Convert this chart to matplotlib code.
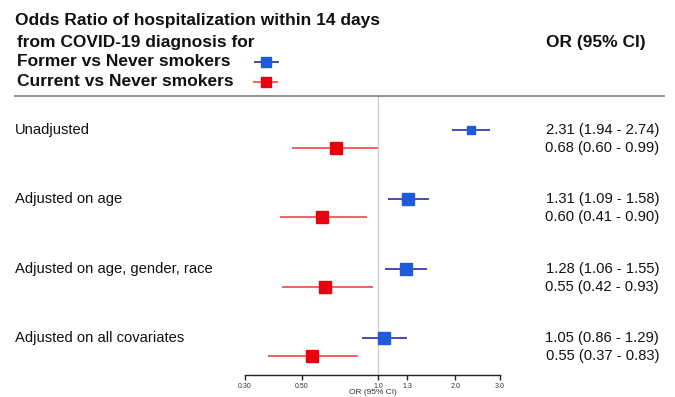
import matplotlib
matplotlib.use("Agg")
import matplotlib.pyplot as plt
from matplotlib.lines import Line2D
from matplotlib.transforms import blended_transform_factory

plt.rcParams['font.family'] = ['Liberation Sans', 'DejaVu Sans']

# ---- data ----
models = ["Unadjusted", "Adjusted on age", "Adjusted on age, gender, race",
          "Adjusted on all covariates"]
former_or = [2.31, 1.31, 1.28, 1.05]
former_lo = [1.94, 1.09, 1.06, 0.86]
former_hi = [2.74, 1.58, 1.55, 1.29]
current_or = [0.68, 0.60, 0.62, 0.55]
current_lo = [0.46, 0.41, 0.42, 0.37]
current_hi = [1.00, 0.90, 0.95, 0.83]
former_txt = ["2.31 (1.94 - 2.74)", "1.31 (1.09 - 1.58)", "1.28 (1.06 - 1.55)", "1.05 (0.86 - 1.29)"]
current_txt = ["0.68 (0.60 - 0.99)", "0.60 (0.41 - 0.90)", "0.55 (0.42 - 0.93)", "0.55 (0.37 - 0.83)"]
xticks = [0.30, 0.50, 1.0, 1.3, 2.0, 3.0]
xtick_labels = ["0.30", "0.50", "1.0", "1.3", "2.0", "3.0"]
title_lines = ["Odds Ratio of hospitalization within 14 days",
               "from COVID-19 diagnosis for"]
legend_labels = ["Former vs Never smokers", "Current vs Never smokers"]

# ---- styles ----
W, H = 675, 397
blue_box = '#1f5bd8'
blue_line = '#4b4bb0'
red_box = '#e8000f'
red_line = '#f06262'
former_ms = [5.8, 8.6, 8.6, 9.2]
current_ms = [8.6, 8.6, 8.6, 9.2]
offset = 0.252
bold_fs = 12.5
reg_fs = 10.6

fig = plt.figure(figsize=(W / 100, H / 100), dpi=100)
ax_left, ax_right = 245 / W, 500 / W
ax_bot, ax_top = (H - 374.5) / H, (H - 96) / H
ax = fig.add_axes([ax_left, ax_bot, ax_right - ax_left, ax_top - ax_bot])
ax.set_xscale('log')
ax.set_xlim(0.3, 3.0)
ax.set_ylim(3.518, -0.489)

for i in range(len(models)):
    ax.plot([former_lo[i], former_hi[i]], [i, i], color=blue_line, lw=1.4, solid_capstyle='butt', zorder=3)
    ax.plot([former_or[i]], [i], marker='s', ms=former_ms[i], color=blue_box, mec=blue_box, zorder=4)
    yc = i + offset
    ax.plot([current_lo[i], current_hi[i]], [yc, yc], color=red_line, lw=1.4, solid_capstyle='butt', zorder=3)
    ax.plot([current_or[i]], [yc], marker='s', ms=current_ms[i], color=red_box, mec=red_box, zorder=4)

ax.axvline(1.0, color='#cfcfcf', lw=1.0, zorder=1)

for s in ['top', 'right', 'left']:
    ax.spines[s].set_visible(False)
ax.spines['bottom'].set_linewidth(1.0)
ax.spines['bottom'].set_color('#222222')
ax.set_yticks([])
ax.set_xticks(xticks)
ax.set_xticklabels(xtick_labels, fontsize=5, color='#333333')
ax.xaxis.set_minor_locator(matplotlib.ticker.NullLocator())
ax.tick_params(axis='x', direction='out', length=3.5, width=1.0, pad=2.5, color='#222222')
ax.set_xlabel("OR (95% CI)", fontsize=6, labelpad=-0.5, color='#333333')

# left labels and right CI texts
tr = blended_transform_factory(fig.transFigure, ax.transData)
for i, m in enumerate(models):
    ax.text(15 / W, i, m, transform=tr, fontsize=reg_fs, va='center', ha='left', color='#111111')
    ax.text(659 / W, i, former_txt[i], transform=tr, fontsize=reg_fs, va='center', ha='right', color='#111111')
    ax.text(659 / W, i + offset, current_txt[i], transform=tr, fontsize=reg_fs, va='center', ha='right', color='#111111')

# title block
def fy(p):
    return (H - p) / H

fig.text(15 / W, fy(20), title_lines[0], fontsize=bold_fs, fontweight='bold', va='center', ha='left', color='#111111')
fig.text(17 / W, fy(42), title_lines[1], fontsize=bold_fs, fontweight='bold', va='center', ha='left', color='#111111')
fig.text(17 / W, fy(62), legend_labels[0], fontsize=bold_fs, fontweight='bold', va='center', ha='left', color='#111111')
fig.text(17 / W, fy(82), legend_labels[1], fontsize=bold_fs, fontweight='bold', va='center', ha='left', color='#111111')
fig.text(546 / W, fy(42), "OR (95% CI)", fontsize=bold_fs, fontweight='bold', va='center', ha='left', color='#111111')

# legend keys
fig.add_artist(Line2D([255 / W, 278 / W], [fy(62), fy(62)], color=blue_line, lw=1.4))
fig.add_artist(Line2D([266 / W], [fy(62)], marker='s', ms=7.5, color=blue_box, mec=blue_box))
fig.add_artist(Line2D([254 / W, 277 / W], [fy(82), fy(82)], color=red_line, lw=1.4))
fig.add_artist(Line2D([266 / W], [fy(82)], marker='s', ms=7.5, color=red_box, mec=red_box))

# header separator line
fig.add_artist(Line2D([15 / W, 664 / W], [fy(96), fy(96)], color='#888888', lw=1.3))

fig.savefig("out.png", dpi=100)
